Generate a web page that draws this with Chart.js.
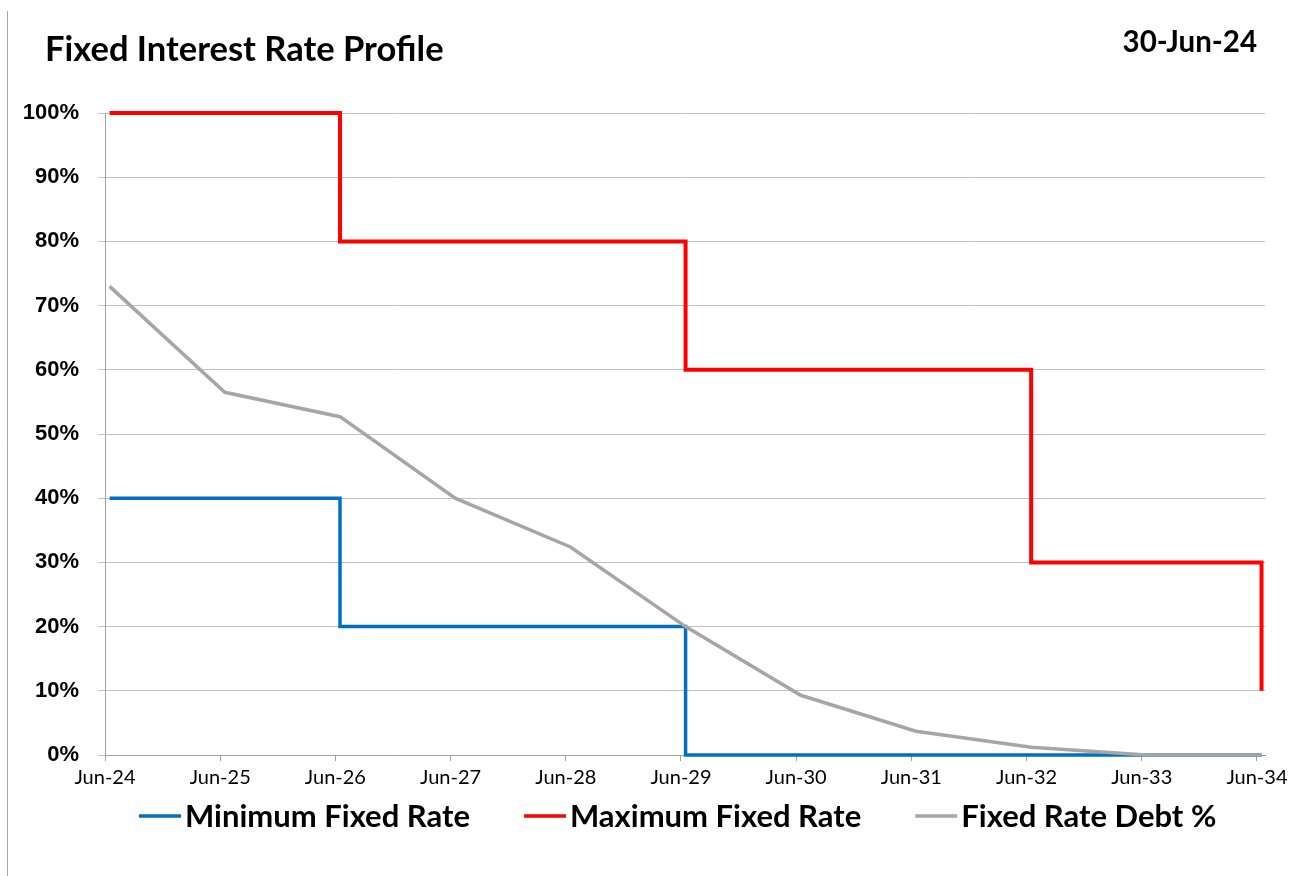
<!DOCTYPE html>
<html>
<head>
<meta charset="utf-8">
<title>Fixed Interest Rate Profile</title>
<script src="https://cdn.jsdelivr.net/npm/chart.js@4.4.1/dist/chart.umd.min.js"></script>
<style>
  html, body { margin: 0; padding: 0; background: #ffffff; }
  #wrap { width: 1306px; height: 876px; position: relative; }
  canvas { display: block; }
</style>
</head>
<body>
<div id="wrap"><canvas id="rateChart" width="1306" height="876"></canvas></div>
<script>
// ---- Data ----------------------------------------------------------------
const periodLabels = ['Jun-24', 'Jun-25', 'Jun-26', 'Jun-27', 'Jun-28', 'Jun-29',
                      'Jun-30', 'Jun-31', 'Jun-32', 'Jun-33', 'Jun-34'];
const periodYears = [0, 1, 2, 3, 4, 5, 6, 7, 8, 9, 10];           // years after Jun-24
const percentTicks = [0, 10, 20, 30, 40, 50, 60, 70, 80, 90, 100];

// hedging policy bands: value holds from each change year until the next
const limitChangeYears = [0, 2, 5, 8, 10];
const minimumFixedRate = [40, 20, 0, 0, 0];
const maximumFixedRate = [100, 80, 60, 30, 10];

// projected share of debt at fixed rates, one value per year
const fixedRateDebtPct = [73, 56.5, 52.7, 40, 32.4, 20, 9.3, 3.7, 1.2, 0, 0];

// balances are struck at month end, a little after each Jun tick
const balanceDateOffset = 0.04;
const axisEndYear = 10.07;

const reportTitle = 'Fixed Interest Rate Profile';
const reportDate = '30-Jun-24';

// ---- Helpers -------------------------------------------------------------
const toPoints = (xs, ys) => xs.map((x, i) => ({ x: x + balanceDateOffset, y: ys[i] }));

const COLORS = {
  min: '#0070c0',
  max: '#ff0000',
  debt: '#a6a6a6',
  grid: '#c0c0c0',
  axis: '#a0a0a0',
  text: '#000000'
};

// Title, report date, outer frame line and the legend row
const decorations = {
  id: 'decorations',
  beforeDraw(chart) {
    const ctx = chart.ctx;
    ctx.save();
    ctx.strokeStyle = '#a6a6a6';
    ctx.lineWidth = 1;
    ctx.beginPath();
    ctx.moveTo(7.5, 11);
    ctx.lineTo(7.5, chart.height);
    ctx.stroke();
    ctx.restore();
  },
  afterDraw(chart) {
    const ctx = chart.ctx;
    ctx.save();
    ctx.fillStyle = COLORS.text;
    ctx.textBaseline = 'alphabetic';

    ctx.font = 'bold 34.5px Lato';
    ctx.textAlign = 'left';
    ctx.fillText(reportTitle, 45, 61);

    ctx.font = 'bold 29.5px Lato';
    ctx.textAlign = 'right';
    ctx.fillText(reportDate, 1257, 52);

    // legend: short line sample followed by the series name
    ctx.font = 'bold 31px Lato';
    ctx.textAlign = 'left';
    ctx.textBaseline = 'middle';
    let x = 139;
    const y = 817;
    chart.data.datasets.forEach((ds) => {
      ctx.strokeStyle = ds.borderColor;
      ctx.lineWidth = 3.5;
      ctx.beginPath();
      ctx.moveTo(x, y - 1);
      ctx.lineTo(x + 42, y - 1);
      ctx.stroke();
      x += 46;
      ctx.fillText(ds.label, x, y);
      x += ctx.measureText(ds.label).width + 54;
    });
    ctx.restore();
  }
};

new Chart(document.getElementById('rateChart'), {
  type: 'line',
  data: {
    datasets: [
      {
        label: 'Minimum Fixed Rate',
        data: toPoints(limitChangeYears, minimumFixedRate),
        borderColor: COLORS.min,
        backgroundColor: COLORS.min,
        borderWidth: 3.5,
        stepped: true,
        pointRadius: 0,
        clip: false,
        order: 1
      },
      {
        label: 'Maximum Fixed Rate',
        data: toPoints(limitChangeYears, maximumFixedRate),
        borderColor: COLORS.max,
        backgroundColor: COLORS.max,
        borderWidth: 4,
        stepped: true,
        pointRadius: 0,
        clip: false,
        order: 2
      },
      {
        label: 'Fixed Rate Debt %',
        data: toPoints(periodYears, fixedRateDebtPct),
        borderColor: COLORS.debt,
        backgroundColor: COLORS.debt,
        borderWidth: 3.5,
        tension: 0,
        pointRadius: 0,
        clip: false,
        order: 0
      }
    ]
  },
  options: {
    responsive: false,
    animation: false,
    events: [],
    layout: { padding: { top: 113, right: 41, bottom: 0, left: 0 } },
    plugins: {
      legend: { display: false },
      title: { display: false },
      tooltip: { enabled: false }
    },
    scales: {
      x: {
        type: 'linear',
        min: 0,
        max: axisEndYear,
        afterBuildTicks(scale) {
          scale.ticks = periodYears.map((v) => ({ value: v }));
        },
        afterFit(scale) { scale.height = 121; },
        ticks: {
          callback: (v) => periodLabels[periodYears.indexOf(v)],
          font: { family: 'Lato', size: 20 },
          color: COLORS.text,
          padding: 5,
          maxRotation: 0,
          autoSkip: false
        },
        grid: {
          drawOnChartArea: false,
          drawTicks: true,
          tickLength: 6,
          color: COLORS.axis
        },
        border: { color: COLORS.axis, width: 1 }
      },
      y: {
        min: 0,
        max: 100,
        afterBuildTicks(scale) {
          scale.ticks = percentTicks.map((v) => ({ value: v }));
        },
        afterFit(scale) { scale.width = 105; },
        ticks: {
          callback: (v) => v + '%',
          font: { family: '"Liberation Sans", Arial', size: 22, weight: 'bold' },
          color: COLORS.text,
          padding: 19
        },
        grid: {
          color: COLORS.grid,
          lineWidth: 1,
          tickLength: 7
        },
        border: { color: COLORS.axis, width: 1 }
      }
    }
  },
  plugins: [decorations]
});
</script>
</body>
</html>
